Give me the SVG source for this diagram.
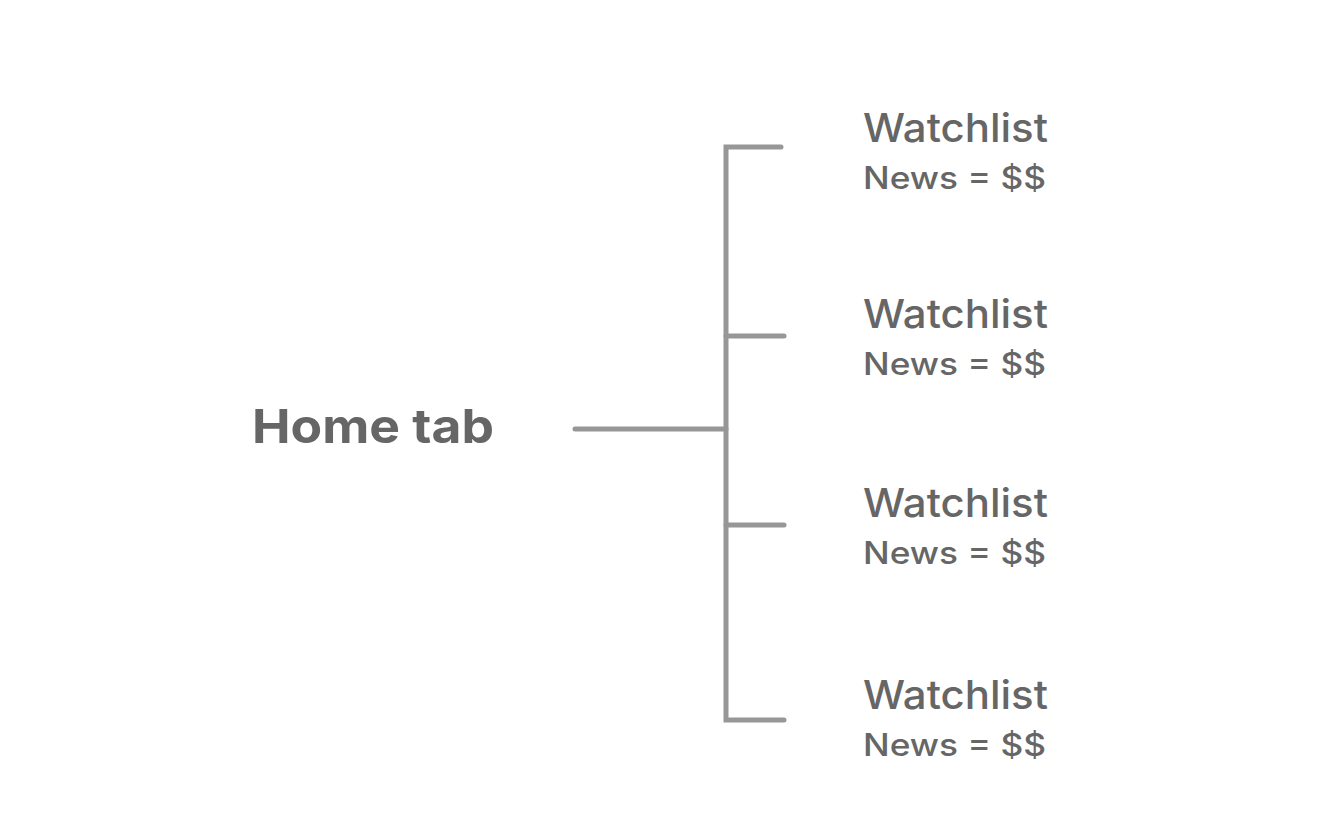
<svg xmlns="http://www.w3.org/2000/svg" width="1323" height="822" viewBox="0 0 1323 822">
<style>
.conn{fill:none;stroke:#979797;stroke-width:5;stroke-linecap:round;stroke-linejoin:miter}
.t1{font-family:Inter,"Liberation Sans",Arial,sans-serif;font-size:40px;font-weight:500;fill:#666}
.t2{font-family:Inter,"Liberation Sans",Arial,sans-serif;font-size:31px;font-weight:500;fill:#666}
.home{font-family:Inter,"Liberation Sans",Arial,sans-serif;font-size:47px;font-weight:bold;fill:#666}
</style>
<rect width="1323" height="822" fill="#fff"/>
<g id="connectors">
<path class="conn" d="M781 147 H726 V720 H784"/>
<path class="conn" d="M575 429 H726"/>
<path class="conn" d="M726 336 H784"/>
<path class="conn" d="M726 525 H784"/>
</g>
<g id="home"><text class="home" x="252" y="443" textLength="242" lengthAdjust="spacingAndGlyphs">Home tab</text></g>
<g id="item1"><text class="t1" x="863" y="142" textLength="185" lengthAdjust="spacingAndGlyphs">Watchlist</text><text class="t2" x="863" y="189" textLength="183" lengthAdjust="spacingAndGlyphs">News = $$</text></g>
<g id="item2"><text class="t1" x="863" y="328" textLength="185" lengthAdjust="spacingAndGlyphs">Watchlist</text><text class="t2" x="863" y="375" textLength="183" lengthAdjust="spacingAndGlyphs">News = $$</text></g>
<g id="item3"><text class="t1" x="863" y="517" textLength="185" lengthAdjust="spacingAndGlyphs">Watchlist</text><text class="t2" x="863" y="564" textLength="183" lengthAdjust="spacingAndGlyphs">News = $$</text></g>
<g id="item4"><text class="t1" x="863" y="709" textLength="185" lengthAdjust="spacingAndGlyphs">Watchlist</text><text class="t2" x="863" y="756" textLength="183" lengthAdjust="spacingAndGlyphs">News = $$</text></g>
</svg>
